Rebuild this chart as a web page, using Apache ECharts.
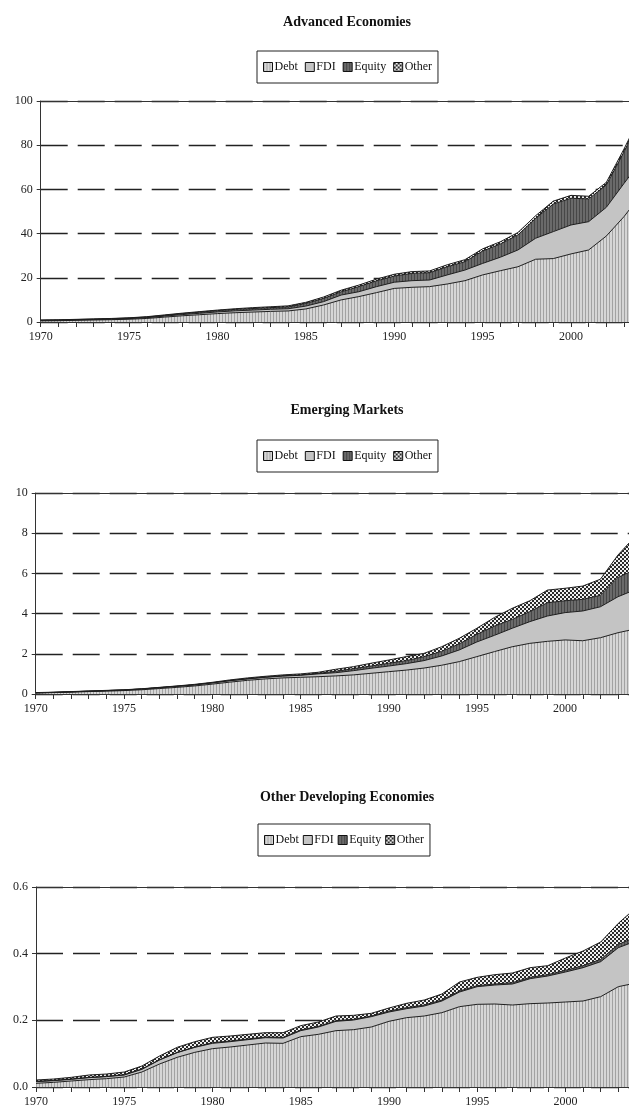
<!DOCTYPE html>
<html>
<head>
<meta charset="utf-8">
<script src="https://cdn.jsdelivr.net/npm/echarts@6/dist/echarts.min.js"></script>
<style>
  html, body { margin: 0; padding: 0; background: #fff; }
  #chart { width: 629px; height: 1115px; }
</style>
</head>
<body>
<div id="chart"></div>
<script>
var years = ['1970','1971','1972','1973','1974','1975','1976','1977','1978','1979',
  '1980','1981','1982','1983','1984','1985','1986','1987','1988','1989',
  '1990','1991','1992','1993','1994','1995','1996','1997','1998','1999',
  '2000','2001','2002','2003','2004'];
var names = ['Debt', 'FDI', 'Equity', 'Other'];
var titles = ['Advanced Economies', 'Emerging Markets', 'Other Developing Economies'];

// Advanced Economies
var advDebt = [0.5,0.6,0.75,0.9,1.05,1.25,1.6,2.2,2.8,3.3,3.8,4.2,4.5,4.8,5.0,5.9,7.7,10.0,11.5,13.3,15.2,15.7,16.0,17.2,18.7,21.3,23.2,25.0,28.4,28.7,30.8,32.6,38.9,47.7,58.0];
var advFdi = [0.2,0.2,0.2,0.25,0.25,0.3,0.35,0.45,0.55,0.65,0.75,0.85,0.9,0.95,1.0,1.3,1.5,2.2,2.2,2.7,2.8,3.0,3.0,4.1,4.8,5.2,6.1,7.6,9.5,12.2,13.1,12.8,13.0,15.0,15.3];
var advEquity = [0.1,0.1,0.15,0.15,0.2,0.25,0.3,0.35,0.45,0.5,0.6,0.65,0.7,0.75,0.85,1.2,1.5,1.5,2.3,2.6,2.8,3.3,3.3,3.7,3.8,5.6,6.0,6.8,9.0,12.5,12.1,10.3,10.1,14.3,19.7];
var advOther = [0.1,0.1,0.1,0.1,0.1,0.1,0.15,0.2,0.2,0.25,0.25,0.3,0.4,0.4,0.45,0.5,0.6,0.7,0.7,0.8,0.8,0.8,0.8,0.9,0.9,1.0,1.0,1.1,1.2,1.3,1.3,1.2,1.2,1.3,1.5];

// Emerging Markets
var emDebt = [0.05,0.07,0.09,0.12,0.14,0.17,0.21,0.27,0.33,0.40,0.49,0.59,0.68,0.75,0.80,0.83,0.86,0.90,0.95,1.03,1.11,1.19,1.29,1.43,1.61,1.86,2.11,2.35,2.52,2.62,2.69,2.65,2.80,3.05,3.24];
var emFdi = [0.01,0.01,0.02,0.02,0.03,0.03,0.04,0.04,0.05,0.05,0.06,0.07,0.07,0.08,0.09,0.10,0.14,0.16,0.21,0.25,0.28,0.32,0.37,0.46,0.58,0.73,0.81,0.92,1.08,1.26,1.36,1.48,1.54,1.79,1.96];
var emEquity = [0,0,0,0,0,0,0,0.01,0.01,0.01,0.01,0.01,0.01,0.01,0.02,0.02,0.03,0.07,0.10,0.11,0.14,0.15,0.20,0.23,0.30,0.38,0.46,0.44,0.50,0.66,0.59,0.58,0.57,0.96,1.0];
var emOther = [0.01,0.01,0.01,0.01,0.01,0.01,0.01,0.01,0.01,0.02,0.02,0.03,0.04,0.04,0.04,0.05,0.05,0.10,0.10,0.14,0.16,0.20,0.16,0.23,0.28,0.30,0.43,0.55,0.54,0.63,0.62,0.66,0.80,1.12,1.67];

// Other Developing Economies
var odDebt = [0.011,0.014,0.018,0.022,0.025,0.030,0.045,0.069,0.089,0.104,0.115,0.120,0.126,0.132,0.131,0.151,0.158,0.169,0.172,0.180,0.197,0.208,0.213,0.223,0.241,0.248,0.249,0.246,0.250,0.252,0.255,0.258,0.271,0.301,0.312];
var odFdi = [0.005,0.005,0.005,0.006,0.006,0.006,0.008,0.012,0.014,0.015,0.016,0.016,0.016,0.016,0.016,0.018,0.022,0.028,0.029,0.031,0.028,0.027,0.030,0.035,0.044,0.053,0.057,0.063,0.075,0.081,0.090,0.100,0.105,0.117,0.126];
var odEquity = [0.001,0.001,0.001,0.001,0.001,0.001,0.001,0.001,0.001,0.001,0.002,0.002,0.002,0.002,0.002,0.002,0.002,0.002,0.002,0.002,0.003,0.003,0.003,0.003,0.003,0.003,0.003,0.004,0.004,0.004,0.005,0.006,0.007,0.010,0.012];
var odOther = [0.004,0.004,0.005,0.007,0.007,0.008,0.009,0.011,0.015,0.016,0.016,0.015,0.014,0.013,0.014,0.013,0.013,0.014,0.012,0.008,0.009,0.013,0.015,0.018,0.027,0.025,0.028,0.029,0.029,0.027,0.037,0.044,0.052,0.063,0.088];

var yMax = [100, 10, 0.6];
var yStep = [20, 2, 0.2];
var yDigits = [0, 0, 1];

// canvas fills, excel style
function stripes(base, line) {
  var c = document.createElement('canvas');
  c.width = 3; c.height = 2;
  var g = c.getContext('2d');
  g.fillStyle = base; g.fillRect(0, 0, 3, 2);
  g.fillStyle = line; g.fillRect(0, 0, 1, 2);
  return { image: c, repeat: 'repeat' };
}
function checker() {
  var c = document.createElement('canvas');
  c.width = 4; c.height = 4;
  var g = c.getContext('2d');
  g.fillStyle = '#f0f0f0'; g.fillRect(0, 0, 4, 4);
  g.fillStyle = '#2a2a2a';
  g.fillRect(0, 0, 2, 2); g.fillRect(2, 2, 2, 2);
  return { image: c, repeat: 'repeat' };
}
var fills = [stripes('#d6d6d6', '#a2a2a2'), '#c4c4c4', stripes('#6a6a6a', '#474747'), checker()];

var serif = 'Liberation Serif';
var grids = [
  { left: 40.7, top: 101, width: 601, height: 221 },
  { left: 35.7, top: 493, width: 600, height: 201 },
  { left: 36, top: 887, width: 600, height: 200 }
];
var titleTop = [15, 403, 790];
var legendPos = [
  { left: 257, top: 51, gap: 7 },
  { left: 257, top: 440, gap: 7 },
  { left: 258, top: 824, gap: 4 }
];
var dataSets = [
  [advDebt, advFdi, advEquity, advOther],
  [emDebt, emFdi, emEquity, emOther],
  [odDebt, odFdi, odEquity, odOther]
];

var option = {
  animation: false,
  backgroundColor: '#fff',
  title: [], legend: [], grid: [], xAxis: [], yAxis: [], series: []
};

for (var i = 0; i < 3; i++) {
  option.title.push({
    text: titles[i], left: 347, top: titleTop[i], textAlign: 'center', padding: 0,
    textStyle: { fontFamily: serif, fontSize: 14, fontWeight: 'bold', color: '#111' }
  });
  option.legend.push({
    data: names, left: legendPos[i].left, top: legendPos[i].top,
    orient: 'horizontal', icon: 'rect', itemWidth: 9, itemHeight: 9,
    itemGap: legendPos[i].gap, padding: [10, 6], borderColor: '#222', borderWidth: 1,
    selectedMode: false,
    itemStyle: { borderColor: '#111', borderWidth: 1 },
    textStyle: { fontFamily: serif, fontSize: 12, color: '#111', padding: [0, 0, 0, -3] }
  });
  var gr = grids[i];
  option.grid.push({
    left: gr.left, top: gr.top, width: gr.width, height: gr.height,
    containLabel: false, outerBoundsMode: 'none'
  });
  option.xAxis.push({
    type: 'category', gridIndex: i, data: years, boundaryGap: false,
    axisLine: { lineStyle: { color: '#333', width: 1 } },
    axisTick: { interval: 0, length: 5, lineStyle: { color: '#333' } },
    axisLabel: { interval: 4, margin: 9, fontFamily: serif, fontSize: 12, color: '#222' },
    splitLine: { show: false }
  });
  option.xAxis.push({
    type: 'category', gridIndex: i, data: years, boundaryGap: false, position: 'top',
    axisLine: { lineStyle: { color: '#333', width: 1.2 } },
    axisTick: { show: false }, axisLabel: { show: false }, splitLine: { show: false }
  });
  (function (k) {
    option.yAxis.push({
      type: 'value', gridIndex: k, min: 0, max: yMax[k], interval: yStep[k],
      axisLine: { show: true, lineStyle: { color: '#333', width: 1 } },
      axisTick: { show: true, length: 4, lineStyle: { color: '#333' } },
      axisLabel: {
        margin: 8, fontFamily: serif, fontSize: 12, color: '#222',
        formatter: function (v) { return v.toFixed(yDigits[k]); }
      },
      splitLine: { show: true, lineStyle: { color: '#222', width: 1.3, type: [27, 10] } }
    });
  })(i);
  for (var s = 0; s < 4; s++) {
    option.series.push({
      name: names[s], type: 'line', xAxisIndex: i * 2, yAxisIndex: i,
      stack: 'g' + i, data: dataSets[i][s],
      symbol: 'none', showSymbol: false,
      lineStyle: { color: '#1e1e1e', width: 1 },
      itemStyle: { color: fills[s] },
      areaStyle: { color: fills[s], opacity: 1 },
      emphasis: { disabled: true }
    });
  }
}

var chart = echarts.init(document.getElementById('chart'), null, { renderer: 'canvas', devicePixelRatio: 1 });
chart.setOption(option);
</script>
</body>
</html>
